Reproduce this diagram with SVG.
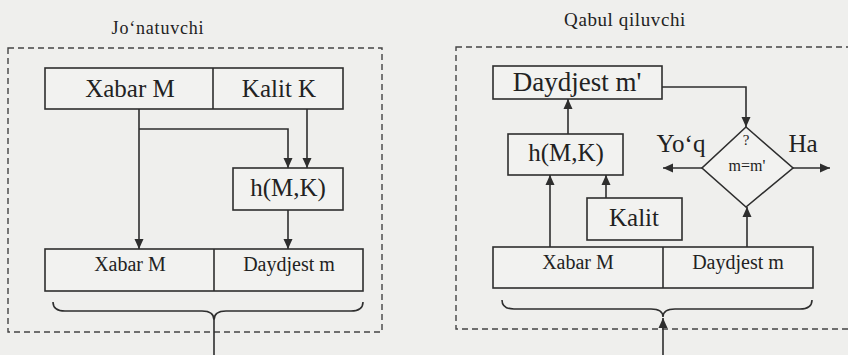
<svg xmlns="http://www.w3.org/2000/svg" width="848" height="355" viewBox="0 0 848 355">
<style>
  .bg { fill: #efefed; }
  .box { fill: #f2f2f0; stroke: #2e2e2e; stroke-width: 1.6; }
  .frame { fill: none; stroke: #444; stroke-width: 1.4; stroke-dasharray: 6 4; }
  .ln { fill: none; stroke: #2e2e2e; stroke-width: 1.6; }
  .t { font-family: 'Liberation Serif', 'DejaVu Serif', serif; fill: #222; text-anchor: middle; }
</style>
<defs>
  <marker id="ah" viewBox="0 0 10 10" refX="10" refY="5" markerWidth="10" markerHeight="10" markerUnits="userSpaceOnUse" orient="auto">
    <path d="M0,0.5 L10,5 L0,9.5 Z" fill="#2e2e2e"/>
  </marker>
</defs>
<rect class="bg" x="0" y="0" width="848" height="355"/>

<g id="sender">
  <text class="t" x="158" y="34" font-size="18" letter-spacing="0.8">Jo‘natuvchi</text>
  <rect class="frame" x="8" y="48" width="374" height="284"/>
</g>
<g id="receiver">
  <text class="t" x="625" y="26" font-size="19" letter-spacing="0.6">Qabul qiluvchi</text>
  <rect class="frame" x="456" y="47" width="420" height="282"/>
</g>

<g id="left-top">
  <rect class="box" x="45" y="68" width="298" height="41"/>
  <line class="ln" x1="213" y1="68" x2="213" y2="109"/>
  <text class="t" x="130" y="97" font-size="25">Xabar M</text>
  <text class="t" x="279" y="97" font-size="25">Kalit K</text>
</g>
<g id="left-hash">
  <rect class="box" x="233" y="168" width="110" height="42"/>
  <text class="t" x="288" y="196" font-size="25">h(M,K)</text>
</g>
<g id="left-bottom">
  <rect class="box" x="45" y="249" width="318" height="42"/>
  <line class="ln" x1="214" y1="249" x2="214" y2="291"/>
  <text class="t" x="130" y="271" font-size="20">Xabar M</text>
  <text class="t" x="289" y="271" font-size="20">Daydjest m</text>
</g>

<g id="right-digest">
  <rect class="box" x="493" y="66" width="169" height="33"/>
  <text class="t" x="577" y="91" font-size="27">Daydjest m'</text>
</g>
<g id="right-hash">
  <rect class="box" x="508" y="134" width="115" height="41"/>
  <text class="t" x="566" y="161" font-size="25">h(M,K)</text>
</g>
<g id="right-key">
  <rect class="box" x="587" y="198" width="95" height="42"/>
  <text class="t" x="634" y="226" font-size="25">Kalit</text>
</g>
<g id="right-bottom">
  <rect class="box" x="493" y="247" width="320" height="41"/>
  <line class="ln" x1="663" y1="247" x2="663" y2="288"/>
  <text class="t" x="578" y="269" font-size="20">Xabar M</text>
  <text class="t" x="738" y="269" font-size="20">Daydjest m</text>
</g>
<g id="decision">
  <path class="box" d="M746,127 L793,168 L746,207 L702,168 Z"/>
  <text class="t" x="746" y="145" font-size="15">?</text>
  <text class="t" x="747" y="171" font-size="16">m=m'</text>
  <text class="t" x="681" y="152" font-size="25">Yo‘q</text>
  <text class="t" x="803" y="152" font-size="25">Ha</text>
</g>

<g id="connectors">
  <line class="ln" x1="139" y1="109" x2="139" y2="249" marker-end="url(#ah)"/>
  <polyline class="ln" points="139,129 288,129 288,168" marker-end="url(#ah)"/>
  <line class="ln" x1="307" y1="109" x2="307" y2="168" marker-end="url(#ah)"/>
  <line class="ln" x1="288" y1="210" x2="288" y2="249" marker-end="url(#ah)"/>
  <path class="ln" d="M53,302 Q53,311 65,311 L202,311 Q214,311 214,320 Q214,311 226,311 L351,311 Q363,311 363,302"/>
  <line class="ln" x1="214" y1="320" x2="214" y2="355"/>

  <line class="ln" x1="550" y1="247" x2="550" y2="175" marker-end="url(#ah)"/>
  <line class="ln" x1="606" y1="198" x2="606" y2="175" marker-end="url(#ah)"/>
  <line class="ln" x1="568" y1="134" x2="568" y2="99" marker-end="url(#ah)"/>
  <polyline class="ln" points="662,87 746,87 746,127" marker-end="url(#ah)"/>
  <line class="ln" x1="702" y1="168" x2="663" y2="168" marker-end="url(#ah)"/>
  <line class="ln" x1="793" y1="168" x2="830" y2="168" marker-end="url(#ah)"/>
  <line class="ln" x1="747" y1="247" x2="747" y2="207" marker-end="url(#ah)"/>
  <path class="ln" d="M502,300 Q502,309 514,309 L651,309 Q663,309 663,317 Q663,309 675,309 L800,309 Q812,309 812,300"/>
  <line class="ln" x1="663" y1="355" x2="663" y2="318" marker-end="url(#ah)"/>
</g>
</svg>
